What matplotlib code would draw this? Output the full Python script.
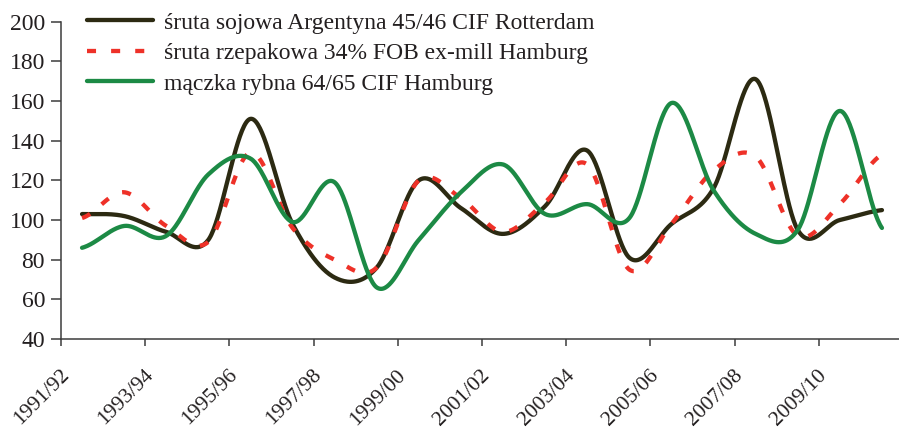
import numpy as np
import matplotlib
matplotlib.use("Agg")
import matplotlib.pyplot as plt
from matplotlib.transforms import ScaledTranslation

# Marketing seasons
seasons = ["1991/92", "1992/93", "1993/94", "1994/95", "1995/96", "1996/97",
           "1997/98", "1998/99", "1999/00", "2000/01", "2001/02", "2002/03",
           "2003/04", "2004/05", "2005/06", "2006/07", "2007/08", "2008/09",
           "2009/10", "2010/11"]

# Price indices per season
soy_meal = [103, 102, 94, 90, 151, 98, 71, 76, 120, 106,
            93, 107, 135, 81, 98, 116, 171, 95, 100, 105]
rapeseed_meal = [101, 114, 97, 89, 134, 96, 80, 76, 120, 111,
                 94, 109, 128, 75, 98, 125, 132, 92, 108, 133]
fish_meal = [86, 97, 92, 123, 131, 99, 119, 66, 90, 114,
             128, 103, 108, 101, 159, 115, 93, 95, 155, 96]

labels = ["śruta sojowa Argentyna 45/46 CIF Rotterdam",
          "śruta rzepakowa 34% FOB ex-mill Hamburg",
          "mączka rybna 64/65 CIF Hamburg"]

yticks = [40, 60, 80, 100, 120, 140, 160, 180, 200]


def smooth(values, n=40):
    """Catmull-Rom smoothing through points placed at category centres."""
    y = np.asarray(values, dtype=float)
    x = np.arange(len(y)) + 0.5
    m = np.empty_like(y)
    m[1:-1] = (y[2:] - y[:-2]) / 2.0
    m[0] = (y[1] - y[0]) / 2.0
    m[-1] = (y[-1] - y[-2]) / 2.0
    xs, ys = [], []
    for i in range(len(y) - 1):
        t = np.linspace(0, 1, n, endpoint=(i == len(y) - 2))
        h00 = 2 * t**3 - 3 * t**2 + 1
        h10 = t**3 - 2 * t**2 + t
        h01 = -2 * t**3 + 3 * t**2
        h11 = t**3 - t**2
        xs.append(x[i] + t)
        ys.append(h00 * y[i] + h10 * m[i] + h01 * y[i + 1] + h11 * m[i + 1])
    return np.concatenate(xs), np.concatenate(ys)


plt.rcParams["font.family"] = ["Liberation Serif", "DejaVu Serif"]
text_color = "#231f20"
fs = 17

fig = plt.figure(figsize=(8.99, 4.30), dpi=100)
ax = fig.add_axes([61 / 899, 91 / 430, 842 / 899, 317.3 / 430])

lw = 3.1
xs, ys = smooth(soy_meal)
ax.plot(xs, ys, color="#2c2a12", lw=lw, solid_capstyle="round", label=labels[0])
xs, ys = smooth(rapeseed_meal)
ax.plot(xs, ys, color="#ee3128", lw=lw, dashes=(2.1, 3.5), dash_capstyle="butt",
        label=labels[1])
xs, ys = smooth(fish_meal)
ax.plot(xs, ys, color="#1c8a45", lw=lw, solid_capstyle="round", label=labels[2])

ax.set_xlim(0, len(seasons))
ax.set_ylim(40, 200)
ax.set_yticks(yticks)
ax.set_xticks(np.arange(0, len(seasons), 2))
ax.set_xticklabels(seasons[::2], rotation=45, ha="right", va="top")

for side in ("top", "right"):
    ax.spines[side].set_visible(False)
for side in ("left", "bottom"):
    ax.spines[side].set_color("#3c3c3c")
    ax.spines[side].set_linewidth(1.1)

ax.tick_params(axis="y", direction="out", length=7.5, width=1.1, color="#3c3c3c",
               labelsize=fs, labelcolor=text_color, pad=4)
ax.tick_params(axis="x", direction="out", length=5, width=1.1, color="#3c3c3c",
               labelsize=15.5, labelcolor=text_color, pad=2)

offset = ScaledTranslation(12 / 100, -17 / 100, fig.dpi_scale_trans)
for lab in ax.get_xticklabels():
    lab.set_transform(lab.get_transform() + offset)

leg = ax.legend(loc="upper left", bbox_to_anchor=(87 / 899, 1 - 12 / 430),
                bbox_transform=fig.transFigure, frameon=False, fontsize=fs,
                handlelength=2.8, handletextpad=0.47, labelspacing=0.38,
                borderaxespad=0, borderpad=0)
for t in leg.get_texts():
    t.set_color(text_color)

fig.savefig("out.png", dpi=100)
